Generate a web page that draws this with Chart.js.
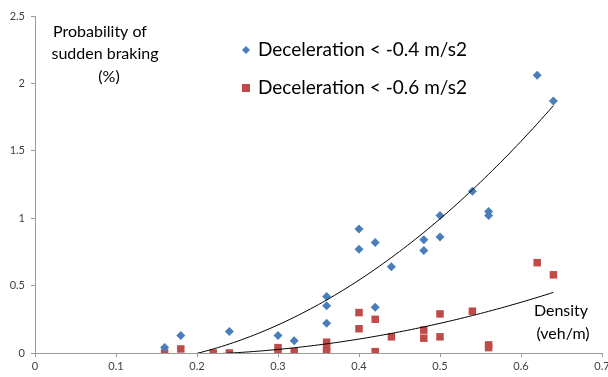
<!DOCTYPE html>
<html>
<head>
<meta charset="utf-8">
<script src="https://cdn.jsdelivr.net/npm/chart.js@4.4.1/dist/chart.umd.min.js"></script>
<style>
  html, body { margin: 0; padding: 0; background: #fff; }
  #wrap { width: 608px; height: 377px; }
</style>
</head>
<body>
<div id="wrap"><canvas id="chart" width="608" height="377"></canvas></div>
<script>
// density (veh/m) and probability (%)
const xBlue = [0.16, 0.18, 0.24, 0.30, 0.32, 0.36, 0.36, 0.36, 0.40, 0.40, 0.42, 0.42, 0.44, 0.48, 0.48, 0.50, 0.50, 0.54, 0.56, 0.56, 0.62, 0.64];
const yBlue = [0.04, 0.13, 0.16, 0.13, 0.09, 0.42, 0.35, 0.22, 0.92, 0.77, 0.82, 0.34, 0.64, 0.84, 0.76, 1.02, 0.86, 1.20, 1.05, 1.02, 2.06, 1.87];

const xRed = [0.16, 0.18, 0.22, 0.24, 0.30, 0.30, 0.32, 0.36, 0.36, 0.36, 0.40, 0.40, 0.42, 0.42, 0.44, 0.48, 0.48, 0.50, 0.50, 0.54, 0.56, 0.56, 0.62, 0.64];
const yRed = [0.00, 0.03, 0.00, 0.00, 0.04, 0.00, 0.01, 0.08, 0.04, 0.01, 0.30, 0.18, 0.25, 0.01, 0.12, 0.17, 0.11, 0.29, 0.12, 0.31, 0.06, 0.04, 0.67, 0.58];

// 2nd order trendline coefficients [c, b, a]
const trendBlue = [-0.06, -0.929, 6.078];
const trendRed = [0.033, -0.616, 1.98];

const seriesNames = ['Deceleration < -0.4 m/s2', 'Deceleration < -0.6 m/s2'];
const xTicks = [0, 0.1, 0.2, 0.3, 0.4, 0.5, 0.6, 0.7];
const yTicks = [0, 0.5, 1, 1.5, 2, 2.5];

const blue = '#4a7ebb';
const red = '#be4b48';

function trend(c, xs) {
  const lo = Math.min(...xs), hi = Math.max(...xs);
  const pts = [];
  for (let i = 0; i <= 96; i++) {
    const x = lo + (hi - lo) * i / 96;
    pts.push({ x: x, y: c[0] + c[1] * x + c[2] * x * x });
  }
  return pts;
}

const toPts = (xs, ys) => xs.map((x, i) => ({ x: x, y: ys[i] }));

const textPlugin = {
  id: 'texts',
  afterDraw(chart) {
    const ctx = chart.ctx;
    ctx.save();
    ctx.fillStyle = '#000';
    ctx.textBaseline = 'middle';

    // legend
    const ds = chart.data.datasets;
    [[ds[0], 50], [ds[1], 88]].forEach(([d, y], i) => {
      ctx.fillStyle = d.backgroundColor;
      if (d.pointStyle === 'rectRot') {
        ctx.beginPath();
        ctx.moveTo(246 - 4, y); ctx.lineTo(246, y - 4); ctx.lineTo(246 + 4, y); ctx.lineTo(246, y + 4);
        ctx.closePath(); ctx.fill();
      } else {
        ctx.fillRect(242, y - 4, 8, 8);
      }
      ctx.fillStyle = '#000';
      ctx.font = '19px Lato';
      ctx.textAlign = 'left';
      ctx.fillText(seriesNames[i], 258, y);
    });

    ctx.font = '16px Lato';
    ctx.textAlign = 'center';
    ctx.fillText('Probability of', 100, 32);
    ctx.fillText('sudden braking', 105, 54);
    ctx.fillText('(%)', 109, 77);

    ctx.fillText('Density', 561, 311);
    ctx.fillText('(veh/m)', 563, 334);
    ctx.restore();
  }
};

new Chart(document.getElementById('chart').getContext('2d'), {
  type: 'scatter',
  data: {
    datasets: [
      {
        label: seriesNames[0],
        data: toPts(xBlue, yBlue),
        pointStyle: 'rectRot',
        pointRadius: 4.5,
        backgroundColor: blue,
        borderColor: blue,
        borderWidth: 0,
        order: 1
      },
      {
        label: seriesNames[1],
        data: toPts(xRed, yRed),
        pointStyle: 'rect',
        pointRadius: 5.3,
        backgroundColor: red,
        borderColor: red,
        borderWidth: 0,
        order: 2
      },
      {
        type: 'line',
        label: 'trend 1',
        data: trend(trendBlue, xBlue),
        borderColor: '#000',
        borderWidth: 1,
        pointRadius: 0,
        fill: false,
        order: 0
      },
      {
        type: 'line',
        label: 'trend 2',
        data: trend(trendRed, xRed),
        borderColor: '#000',
        borderWidth: 1,
        pointRadius: 0,
        fill: false,
        order: 0
      }
    ]
  },
  options: {
    responsive: false,
    animation: false,
    layout: { padding: { top: 16, right: 6, left: 0, bottom: 0 } },
    plugins: {
      legend: { display: false },
      tooltip: { enabled: false }
    },
    scales: {
      x: {
        type: 'linear',
        min: 0,
        max: 0.7,
        afterBuildTicks: s => { s.ticks = xTicks.map(v => ({ value: v })); },
        afterFit: s => { s.height = 24; s.paddingLeft = 0; s.paddingRight = 0; },
        grid: { drawOnChartArea: false, color: '#9a9a9a', tickLength: 4, tickColor: '#9a9a9a' },
        border: { color: '#9a9a9a', width: 1 },
        ticks: { color: '#404040', font: { family: 'Lato', size: 11 }, padding: 3, maxRotation: 0, autoSkip: false, callback: v => String(v) }
      },
      y: {
        min: 0,
        max: 2.5,
        afterBuildTicks: s => { s.ticks = yTicks.map(v => ({ value: v })); },
        afterFit: s => { s.width = 35; s.paddingTop = 0; s.paddingBottom = 0; },
        grid: { drawOnChartArea: false, color: '#9a9a9a', tickLength: 4, tickColor: '#9a9a9a' },
        border: { color: '#9a9a9a', width: 1 },
        ticks: { color: '#404040', font: { family: 'Lato', size: 11 }, padding: 6, autoSkip: false, callback: v => String(v) }
      }
    }
  },
  plugins: [textPlugin]
});
</script>
</body>
</html>
